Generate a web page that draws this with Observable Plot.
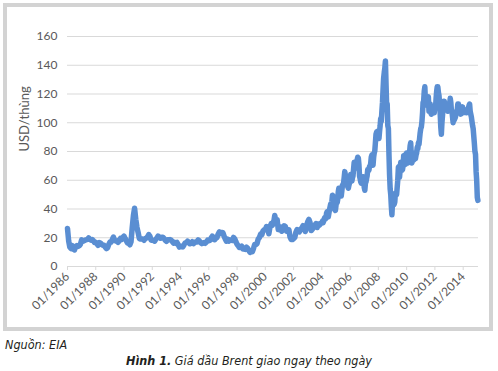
<!DOCTYPE html>
<html>
<head>
<meta charset="utf-8">
<script src="https://cdn.jsdelivr.net/npm/d3@7"></script>
<script src="https://cdn.jsdelivr.net/npm/@observablehq/plot@0.6"></script>
<style>
  body { margin: 0; background: #fff; }
  #wrap { position: relative; width: 498px; height: 371px; background: #fff; overflow: hidden; }
  #chart { position: absolute; left: 0; top: 0; }
  #frame { position: absolute; left: 3px; top: 3px; width: 482px; height: 320px; border: 4px solid #d3d3d3; pointer-events: none; }
  .cap { position: absolute; font-family: "Liberation Sans Narrow", "DejaVu Sans Condensed", "Liberation Sans", sans-serif; font-style: italic; font-size: 12.5px; line-height: 14px; color: #231f20; white-space: nowrap; }
</style>
</head>
<body>
<div id="wrap">
  <div id="chart"></div>
  <div id="frame"></div>
  <div class="cap" id="source" style="left:5px; top:338px;"></div>
  <div class="cap" id="title" style="left:0; width:498px; top:354px; text-align:center;"></div>
</div>
<script>
// Monthly Brent spot price (USD/barrel), Jan 1986 – Dec 2003
const brentMonthly1986to2003 = [
  26.5, 17.5, 13.5, 12.5, 14.5, 12.0, 11.5, 14.0, 14.5, 14.0, 14.5, 15.5,
  18.5, 17.5, 17.9, 18.3, 18.6, 18.9, 19.9, 19.0, 18.3, 18.8, 18.0, 16.7,
  16.8, 15.7, 14.7, 16.6, 16.3, 15.5, 14.7, 14.8, 13.5, 12.5, 13.0, 15.2,
  17.0, 16.9, 18.6, 20.5, 18.5, 17.8, 17.7, 16.8, 18.2, 19.5, 18.8, 20.2,
  21.1, 19.4, 18.0, 16.4, 16.3, 15.1, 17.2, 27.2, 35.5, 40.5, 32.8, 27.3,
  23.6, 19.5, 19.1, 19.2, 19.2, 18.2, 19.4, 19.8, 20.5, 22.2, 21.1, 18.4,
  18.2, 18.1, 17.6, 18.9, 19.9, 21.2, 20.3, 19.7, 20.3, 20.3, 19.5, 18.3,
  17.5, 18.6, 18.6, 18.7, 18.4, 17.5, 16.3, 16.8, 16.1, 16.7, 15.2, 13.5,
  14.2, 13.8, 13.6, 15.0, 16.4, 16.6, 17.6, 16.7, 15.8, 16.2, 17.2, 15.9,
  16.6, 17.2, 17.0, 18.5, 17.8, 16.7, 15.9, 16.1, 16.7, 16.1, 17.1, 18.3,
  17.9, 18.2, 19.8, 21.1, 19.0, 18.6, 19.6, 20.2, 22.6, 24.1, 23.0, 23.7,
  23.5, 20.9, 19.2, 17.6, 19.0, 17.6, 18.5, 18.6, 18.1, 20.2, 19.3, 17.2,
  15.5, 14.4, 13.2, 13.4, 14.2, 12.1, 12.1, 11.9, 13.4, 12.8, 11.1, 9.8,
  11.1, 10.3, 12.5, 15.3, 15.2, 15.9, 19.1, 20.2, 22.5, 22.0, 24.6, 25.5,
  25.5, 27.8, 27.5, 22.8, 27.7, 29.8, 28.7, 30.2, 35.5, 31.0, 32.6, 25.7,
  25.6, 27.5, 24.5, 25.7, 28.3, 27.9, 24.6, 25.7, 25.6, 20.5, 18.8, 18.7,
  19.4, 20.3, 23.7, 25.7, 25.4, 24.1, 25.7, 26.7, 28.4, 27.5, 24.3, 28.3,
  31.2, 32.8, 30.6, 25.0, 25.9, 27.7, 28.4, 29.9, 27.1, 29.6, 28.8, 29.8
];

// Half-monthly Brent spot price (1st and 16th), Jan 2004 – Jan 2015
const brentHalfMonthly2004to2015 = [
  30.5, 31.5, 30.5, 31.5, 33, 34, 33, 33.5, 37, 38, 36, 34.5, 37, 39.5, 41.5, 43.5, 41.5, 45, 49.5, 49, 45, 42, 39.5, 39,
  42.5, 46.5, 44.5, 47, 52, 54.5, 53.5, 51, 49, 49, 52.5, 56.5, 57, 58, 62, 66, 63.5, 62, 60, 56.5, 55.5, 54.5, 56.5, 58,
  61.5, 64, 60.5, 59.5, 61.5, 63, 68, 72.5, 70, 68.5, 68.5, 70, 74, 76, 75.5, 71, 63, 61, 59, 58, 59, 59.5, 62.5, 61,
  55, 53, 58, 59, 61, 63, 67.5, 67, 67, 69.5, 70, 71.5, 76, 77.5, 71, 70.5, 76, 79, 80.5, 86, 92, 93.5, 90, 94,
  92, 89, 94, 98, 103, 101, 108, 114, 123, 131, 135, 138, 143, 128, 113, 113, 98, 96, 78, 64, 54, 50, 42, 36,
  45, 44, 43, 43.5, 45, 51, 51, 50, 55, 60, 69, 69.5, 62, 67, 72.5, 72, 67, 67.5, 70, 77, 77, 77.5, 71, 77,
  79, 73, 72, 76, 79, 79, 84, 86, 77, 72, 74, 76, 74, 77, 79, 75, 77.5, 79, 83, 82, 86, 85, 89, 93,
  96, 97, 101, 107, 114, 115, 122, 125, 115, 114, 115, 112, 117, 118, 108, 111, 113, 107, 106, 110, 110, 110, 108, 107,
  112, 110, 117, 122, 125, 125, 121, 119, 113, 107, 97, 92, 100, 105, 112, 115, 115, 110, 113, 110, 109, 110, 108, 110,
  112, 113, 117, 114, 109, 108, 104, 100, 103, 102, 103, 104, 107, 108, 109, 113, 113, 109, 110, 108, 106, 110, 110, 111,
  107, 108, 109, 109, 108, 107, 107, 109, 109, 110, 112, 113, 108, 106, 104, 101, 98, 96, 91, 86, 80, 78, 66, 60,
  48, 46
];

const yTicks = [0, 20, 40, 60, 80, 100, 120, 140, 160];
const xTickYears = [1986, 1988, 1990, 1992, 1994, 1996, 1998, 2000, 2002, 2004, 2006, 2008, 2010, 2012, 2014];
const yLabel = "USD/thùng";
const sourceText = "Nguồn: EIA";
const titleBold = "Hình 1.";
const titleRest = " Giá dầu Brent giao ngay theo ngày";

const data = [];
brentMonthly1986to2003.forEach((v, i) => data.push({date: new Date(Date.UTC(1986, i, 1)), value: v}));
brentHalfMonthly2004to2015.forEach((v, j) => data.push({date: new Date(Date.UTC(2004, Math.floor(j / 2), j % 2 ? 16 : 1)), value: v}));

const tickDates = xTickYears.map(y => new Date(Date.UTC(y, 0, 1)));

const chart = Plot.plot({
  width: 498,
  height: 334,
  marginLeft: 67,
  marginRight: 20,
  marginTop: 36,
  marginBottom: 68,
  style: {fontFamily: "Lato, 'Liberation Sans', sans-serif", fontSize: "12px", color: "#595959", background: "transparent"},
  x: {type: "utc", domain: [new Date(Date.UTC(1986, 0, 1)), new Date(Date.UTC(2015, 1, 1))]},
  y: {domain: [0, 160]},
  marks: [
    Plot.gridY(yTicks.filter(d => d > 0), {stroke: "#d9d9d9", strokeOpacity: 1, strokeWidth: 1}),
    Plot.ruleY([0], {stroke: "#d9d9d9", strokeWidth: 1}),
    Plot.axisY({ticks: yTicks, tickSize: 0, tickPadding: 10, label: null, fill: "#595959"}),
    Plot.axisX({ticks: tickDates, tickFormat: d => "01/" + d.getUTCFullYear(), tickRotate: -45, tickSize: 4, tickPadding: 4, stroke: "#d9d9d9", fill: "#595959", label: null}),
    Plot.lineY(data, {x: "date", y: "value", stroke: "#5a8ed2", strokeWidth: 5.5, strokeLinejoin: "round", strokeLinecap: "round"}),
    Plot.text([yLabel], {frameAnchor: "left", dx: -43, rotate: -90, fontSize: 13, fill: "#595959"})
  ]
});
document.getElementById("chart").appendChild(chart);

document.getElementById("source").textContent = sourceText;
const t = document.getElementById("title");
const b = document.createElement("b");
b.textContent = titleBold;
t.appendChild(b);
t.appendChild(document.createTextNode(titleRest));
</script>
</body>
</html>
